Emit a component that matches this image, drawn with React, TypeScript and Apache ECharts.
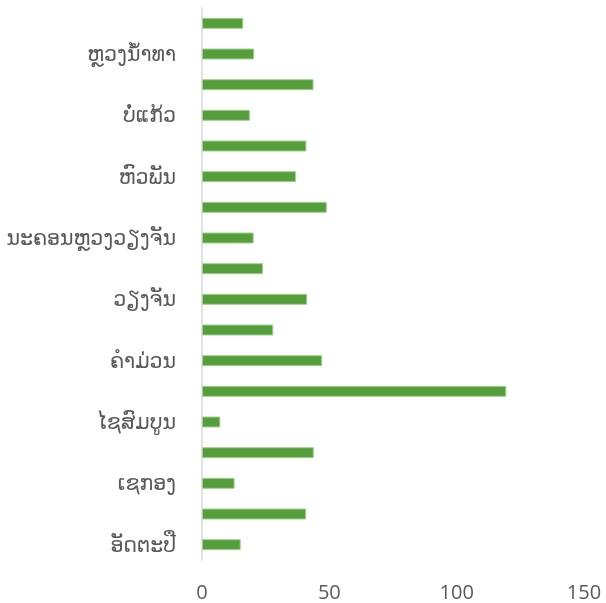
import React, { useEffect, useRef } from "react";
import * as echarts from "echarts";

// Categories, bottom to top (only every other label is shown, as in the reference)
const categories = [
  "ອັດຕະປື",
  "ສາລະວັນ",
  "ເຊກອງ",
  "ຈຳປາສັກ",
  "ໄຊສົມບູນ",
  "ສະຫວັນນະເຂດ",
  "ຄຳມ່ວນ",
  "ບໍລິຄຳໄຊ",
  "ວຽງຈັນ",
  "ໄຊຍະບູລີ",
  "ນະຄອນຫຼວງວຽງຈັນ",
  "ຊຽງຂວາງ",
  "ຫົວພັນ",
  "ຫຼວງພະບາງ",
  "ບໍ່ແກ້ວ",
  "ອຸດົມໄຊ",
  "ຫຼວງນ້ຳທາ",
  "ຜົ້ງສາລີ",
];

const values = [
  15.2, 40.9, 12.8, 43.9, 7.2, 119.5, 47.2, 28.0, 41.3, 24.0, 20.3, 49.0, 36.9,
  41.0, 18.8, 43.8, 20.5, 16.2,
];

const xTicks = [0, 50, 100, 150];

export default function App() {
  const ref = useRef<HTMLDivElement>(null);

  useEffect(() => {
    if (!ref.current) return;
    const chart = echarts.init(ref.current, undefined, { renderer: "svg" });
    chart.setOption({
      animation: false,
      grid: { left: 202, right: 22, top: 8, bottom: 43, containLabel: false },
      xAxis: {
        type: "value",
        min: xTicks[0],
        max: xTicks[xTicks.length - 1],
        interval: 50,
        axisLine: { show: false },
        axisTick: { show: false },
        splitLine: { show: false },
        axisLabel: {
          color: "#595959",
          fontSize: 20,
          fontFamily: "Open Sans, sans-serif",
          margin: 21,
        },
      },
      yAxis: {
        type: "category",
        data: categories,
        axisLine: { show: true, lineStyle: { color: "#d9d9d9", width: 1.5 } },
        axisTick: { show: false },
        axisLabel: {
          interval: 1,
          color: "#595959",
          fontSize: 20.5,
          fontFamily: "DejaVu Sans, sans-serif",
          margin: 26,
        },
      },
      series: [
        {
          type: "bar",
          data: values,
          barWidth: 11,
          itemStyle: {
            color: "#559E3B",
            borderColor: "#a5cf95",
            borderWidth: 1,
          },
        },
      ],
    });
    return () => chart.dispose();
  }, []);

  return (
    <div
      ref={ref}
      style={{ position: "fixed", left: 0, top: 0, width: 606, height: 603 }}
    />
  );
}
